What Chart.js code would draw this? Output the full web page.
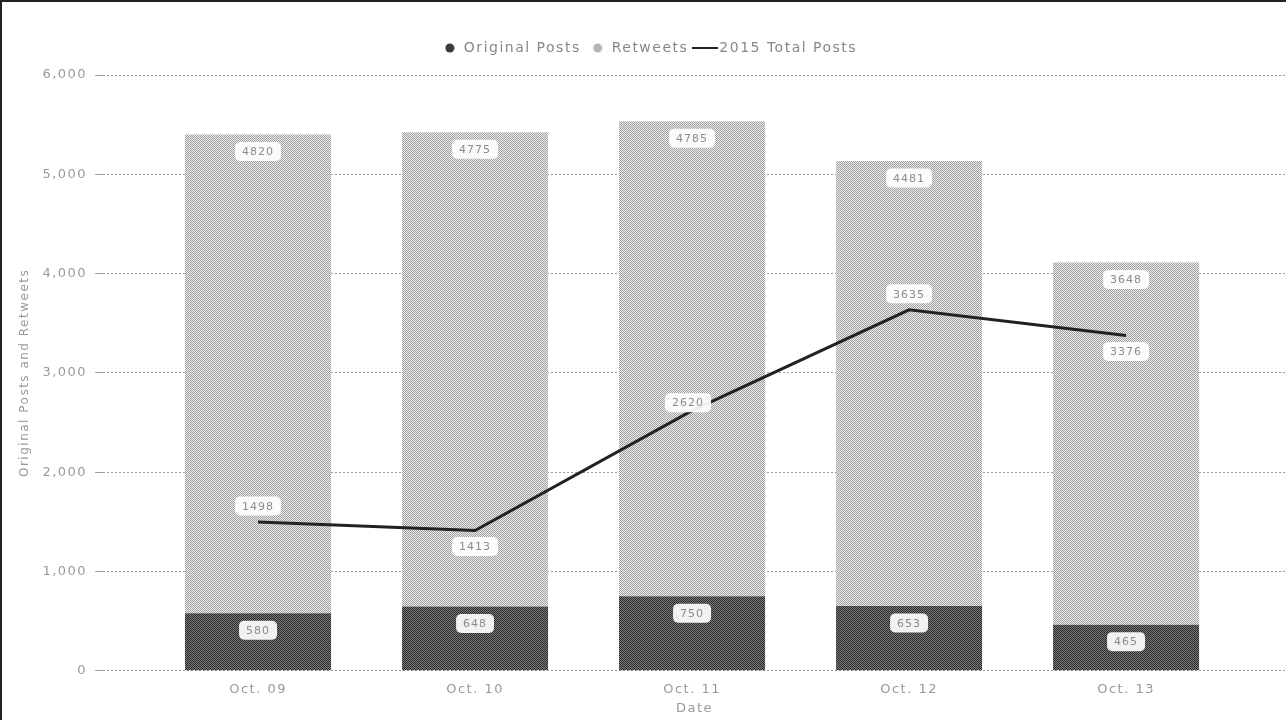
<!DOCTYPE html>
<html>
<head>
<meta charset="utf-8">
<script src="https://cdn.jsdelivr.net/npm/chart.js@4"></script>
<style>
  html, body { margin: 0; padding: 0; background: #fff; }
  #wrap { width: 1286px; height: 720px; position: relative; }
</style>
</head>
<body>
<div id="wrap"><canvas id="postsChart" width="1286" height="720"></canvas></div>
<script>
const dates = ['Oct. 09', 'Oct. 10', 'Oct. 11', 'Oct. 12', 'Oct. 13'];
const originalPosts = [580, 648, 750, 653, 465];
const retweets = [4820, 4775, 4785, 4481, 3648];
const totalPosts2015 = [1498, 1413, 2620, 3635, 3376];
const yTicks = [0, 1000, 2000, 3000, 4000, 5000, 6000];

const FONT = 'DejaVu Sans';

// halftone-ish fills like the scanned figure
function dotPattern(a, b) {
    const c = document.createElement('canvas');
    c.width = 2; c.height = 2;
    const g = c.getContext('2d');
    g.fillStyle = a; g.fillRect(0, 0, 2, 2);
    g.fillStyle = b; g.fillRect(0, 0, 1, 1); g.fillRect(1, 1, 1, 1);
    return g.createPattern(c, 'repeat');
}
const ctx = document.getElementById('postsChart').getContext('2d');
const darkFill = dotPattern('#7a7a7a', '#2a2a2a');
const lightFill = dotPattern('#ececec', '#a0a0a0');

function legendIcon(kind, color) {
    const c = document.createElement('canvas');
    if (kind === 'line') {
        c.width = 26; c.height = 4;
        const g = c.getContext('2d');
        g.fillStyle = color; g.fillRect(0, 1, 26, 2);
    } else {
        c.width = 10; c.height = 10;
        const g = c.getContext('2d');
        g.fillStyle = color; g.beginPath(); g.arc(5, 5, 4.5, 0, Math.PI * 2); g.fill();
    }
    return c;
}

const spacing = {
    id: 'spacing',
    beforeInit(chart) {
        // extra gap under the legend
        const lg = chart.legend;
        if (lg) {
            const fit = lg.fit;
            lg.fit = function () { fit.call(this); this.height += 10; };
        }
    },
    beforeUpdate(chart) { chart.ctx.letterSpacing = '1.5px'; },
    beforeDraw(chart) { chart.ctx.letterSpacing = '1.5px'; }
};

const labelPlugin = {
    id: 'valueBoxes',
    afterDatasetsDraw(chart) {
        const c = chart.ctx;
        c.save();
        c.letterSpacing = '1px';
        c.font = '11px "' + FONT + '"';
        c.textAlign = 'center';
        c.textBaseline = 'middle';
        const box = (x, y, txt) => {
            const w = c.measureText(txt).width + 14, h = 19;
            c.fillStyle = 'rgba(255,255,255,0.92)';
            c.beginPath();
            c.roundRect(x - w / 2, y - h / 2, w, h, 5);
            c.fill();
            c.fillStyle = '#8c8c8c';
            c.fillText(txt, x, y + 1);
        };
        [0, 1].forEach(di => {
            const vals = chart.data.datasets[di].data;
            chart.getDatasetMeta(di).data.forEach((bar, i) => {
                box(bar.x, bar.y + 17, String(vals[i].y));
            });
        });
        const side = [-1, 1, -0.5, -1, 1];
        chart.getDatasetMeta(2).data.forEach((pt, i) => {
            box(pt.x - (i === 2 ? 4 : 0), pt.y + side[i] * 16, String(totalPosts2015[i]));
        });
        c.restore();
    },
    afterDraw(chart) {
        const c = chart.ctx;
        c.save();
        c.fillStyle = '#222';
        c.fillRect(0, 0, chart.width, 2);
        c.fillRect(0, 0, 2, chart.height);
        c.restore();
    }
};

new Chart(ctx, {
    type: 'bar',
    data: {
        datasets: [{
            label: 'Original Posts',
            data: originalPosts.map((v, i) => ({ x: i, y: v })),
            backgroundColor: darkFill,
            stack: 'posts',
            order: 2,
            categoryPercentage: 1,
            barPercentage: 0.673
        }, {
            label: 'Retweets',
            data: retweets.map((v, i) => ({ x: i, y: v })),
            backgroundColor: lightFill,
            stack: 'posts',
            order: 2,
            categoryPercentage: 1,
            barPercentage: 0.673
        }, {
            type: 'line',
            label: '2015 Total Posts',
            data: totalPosts2015.map((v, i) => ({ x: i, y: v })),
            borderColor: '#222',
            borderWidth: 3,
            pointRadius: 0,
            tension: 0,
            stack: 'total',
            order: 1
        }]
    },
    options: {
        responsive: false,
        animation: false,
        layout: { padding: { left: 14, right: 0, top: 31, bottom: 0 } },
        plugins: {
            tooltip: { enabled: false },
            legend: {
                position: 'top',
                labels: {
                    color: '#888',
                    font: { family: FONT, size: 14 },
                    usePointStyle: true,
                    boxHeight: 10,
                    padding: 10,
                    generateLabels(chart) {
                        return chart.data.datasets.map((ds, i) => ({
                            text: ds.label,
                            fontColor: '#888',
                            datasetIndex: i,
                            lineWidth: 0,
                            pointStyle: i === 2 ? legendIcon('line', '#222')
                                : legendIcon('dot', i === 0 ? '#3a3a3a' : '#b5b5b5')
                        }));
                    }
                }
            }
        },
        scales: {
            x: {
                type: 'linear',
                offset: false,
                min: -0.714,
                max: 4.737,
                stacked: true,
                grid: { display: false, offset: false },
                border: { display: false },
                ticks: {
                    stepSize: 1,
                    includeBounds: false,
                    color: '#999',
                    font: { family: FONT, size: 13 },
                    callback: v => dates[v] || ''
                },
                title: {
                    display: true, text: 'Date', color: '#999',
                    font: { family: FONT, size: 13 }, padding: { top: 0 }
                }
            },
            y: {
                stacked: true,
                min: 0,
                max: 6000,
                afterBuildTicks: s => { s.ticks = yTicks.map(v => ({ value: v })); },
                grid: { color: '#9a9a9a', borderDash: [2, 2], tickLength: 8 },
                border: { display: false, dash: [2, 2] },
                ticks: {
                    color: '#999',
                    padding: 8,
                    font: { family: FONT, size: 13 },
                    callback: v => v.toLocaleString('en-US')
                },
                title: {
                    display: true, text: 'Original Posts and Retweets', color: '#999',
                    font: { family: FONT, size: 12 }, padding: { bottom: 2 }
                }
            }
        }
    },
    plugins: [spacing, labelPlugin]
});
</script>
</body>
</html>
